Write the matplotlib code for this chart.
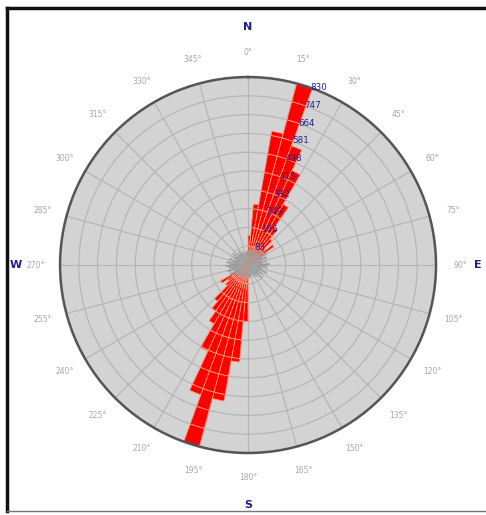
import matplotlib.pyplot as plt
import numpy as np
from matplotlib.lines import Line2D

# 5-degree direction bins, clockwise from north
bin_starts = np.arange(0, 360, 5)

# main counts per bin
red_counts = [130, 270, 600, 830, 560, 460, 310, 200, 150, 100, 140, 70,   # 0-55
              0, 0, 0, 0, 0, 0,                                           # 60-85
              0, 0, 0, 0, 0, 0,                                           # 90-115
              0, 0, 0, 0, 0, 0,                                           # 120-145
              0, 0, 0, 0, 0, 0,                                           # 150-175
              250, 430, 610, 830, 610, 420, 300, 250, 210, 130, 110, 140, # 180-235
              60, 0, 0, 0, 0, 0,                                          # 240-265
              0, 0, 0, 0, 0, 0,                                           # 270-295
              0, 0, 0, 0, 0, 0,                                           # 300-325
              0, 0, 0, 0, 0, 60]                                          # 330-355

# secondary counts (small, all directions)
gray_counts = [60, 55, 70, 65, 80, 60, 75, 55, 70, 85, 60, 95,
               70, 90, 60, 80, 65, 95, 75, 85, 60, 70, 90, 55,
               75, 60, 80, 55, 65, 50, 60, 45, 55, 50, 60, 55,
               65, 50, 60, 55, 70, 50, 65, 55, 70, 60, 80, 65,
               90, 70, 95, 75, 85, 100, 80, 95, 70, 85, 60, 75,
               65, 80, 55, 70, 60, 75, 55, 65, 50, 60, 55, 65]

r_ticks = [83, 166, 249, 332, 415, 498, 581, 664, 747, 830]
angle_ticks = np.arange(0, 360, 15)
compass = [("N", 0, 1050), ("E", 90, 1015), ("S", 180, 1060), ("W", 270, 1025)]

navy = "#1f1f8a"
r_max = r_ticks[-1]
step = r_ticks[0]

fig = plt.figure(figsize=(4.86, 5.15), dpi=100)
ax = fig.add_axes([0.1235, 0.1204, 0.7737, 0.730], projection="polar")
ax.set_theta_zero_location("N")
ax.set_theta_direction(-1)
ax.set_facecolor("#d3d3d3")
ax.set_axisbelow(True)

width = np.deg2rad(5)
theta = np.deg2rad(bin_starts + 2.5)

# red petals, drawn ring by ring so each segment gets its own outline
for t, v in zip(theta, red_counts):
    bottom = 0
    while bottom < v:
        h = min(step, v - bottom)
        ax.bar(t, h, width=width, bottom=bottom, color="#ff0000",
               edgecolor="#ff9a7a", linewidth=0.6, zorder=2)
        bottom += step

ax.bar(theta, gray_counts, width=width, color="#9a9a9a", linewidth=0, zorder=3)

ax.set_ylim(0, r_max)
ax.set_yticks(r_ticks)
ax.set_yticklabels([])
# radial labels on top of the petals
label_angle = np.deg2rad(19.5)
for r in r_ticks:
    ax.text(label_angle, r, str(r), fontsize=6.3, color=navy,
            ha="left", va="center", zorder=5)

ax.set_xticks(np.deg2rad(angle_ticks))
ax.set_xticklabels([f"{a}°" for a in angle_ticks], fontsize=5.5, color="#a6a6a6")
ax.tick_params(axis="x", pad=7)
ax.grid(True, color="#b3b3b3", linewidth=0.8)
ax.spines["polar"].set_color("#555555")
ax.spines["polar"].set_linewidth(1.8)

for label, deg, r in compass:
    ax.text(np.deg2rad(deg), r, label, ha="center", va="center",
            fontsize=8, fontweight="bold", color=navy, clip_on=False)

# frame around the figure
fig.add_artist(Line2D([0.014, 1.0], [0.984, 0.984], color="#111111", lw=2.5))
fig.add_artist(Line2D([0.015, 0.015], [0.008, 0.985], color="#111111", lw=2.5))
fig.add_artist(Line2D([0.015, 1.0], [0.008, 0.008], color="#777777", lw=1.0))

fig.savefig("out.png", dpi=100)
